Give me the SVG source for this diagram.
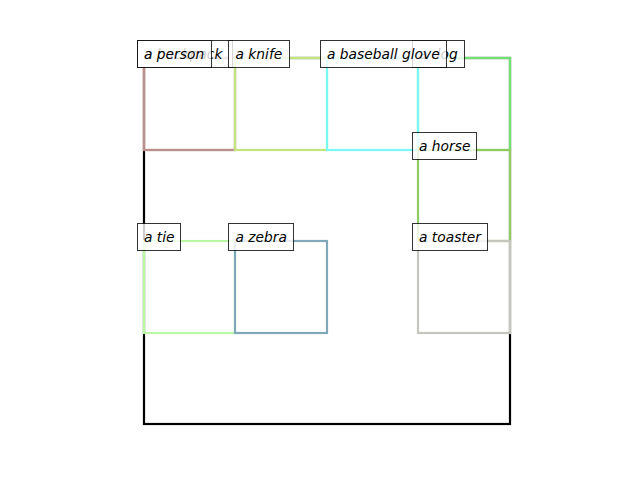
<svg xmlns="http://www.w3.org/2000/svg" width="640" height="480" viewBox="0 0 640 480">
<style>
.box{fill:none;stroke-width:2.2}
.lb{fill:#fff;fill-opacity:0.8;stroke:#000;stroke-opacity:0.8;stroke-width:1}
.tx{font-family:"DejaVu Sans",sans-serif;font-style:oblique;font-size:13.8px;fill:#000}
</style>
<rect width="640" height="480" fill="#fff"/>
<g id="boxes">
<rect id="image" class="box" x="144" y="58" width="366" height="366" stroke="#000"/>
<rect id="box-backpack" class="box" x="144" y="58" width="91" height="92" stroke="#bc8f8f"/>
<rect id="box-person" class="box" x="144" y="58" width="91" height="92" stroke="#bc8f8f"/>
<rect id="box-knife" class="box" x="235" y="58" width="92" height="92" stroke="#c2e47c"/>
<rect id="box-dog" class="box" x="418" y="58" width="92" height="92" stroke="#72e072"/>
<rect id="box-glove" class="box" x="327" y="58" width="91" height="92" stroke="#7af8f8"/>
<rect id="box-horse" class="box" x="418" y="150" width="92" height="91" stroke="#90cc62"/>
<rect id="box-tie" class="box" x="144" y="241" width="91" height="92" stroke="#baf8a2"/>
<rect id="box-zebra" class="box" x="235" y="241" width="92" height="92" stroke="#80a8b8"/>
<rect id="box-toaster" class="box" x="418" y="241" width="92" height="92" stroke="#c6c6be"/>
</g>
<g id="backpack"><rect class="lb" x="137.5" y="40.5" width="95" height="27"/><text class="tx" x="144" y="58.5">a backpack</text></g>
<g id="person"><rect class="lb" x="137.5" y="40.5" width="74" height="27"/><text class="tx" x="144" y="58.5">a person</text></g>
<g id="knife"><rect class="lb" x="228.5" y="40.5" width="61" height="27"/><text class="tx" x="235.5" y="58.5">a knife</text></g>
<g id="dog"><rect class="lb" x="412.5" y="40.5" width="52" height="27"/><text class="tx" x="419" y="58.5">a dog</text></g>
<g id="glove"><rect class="lb" x="320.5" y="40.5" width="126" height="27"/><text class="tx" x="327" y="58.5">a baseball glove</text></g>
<g id="horse"><rect class="lb" x="412.5" y="132.5" width="64" height="27"/><text class="tx" x="419" y="150.5">a horse</text></g>
<g id="tie"><rect class="lb" x="137.5" y="223.5" width="43" height="27"/><text class="tx" x="144" y="241.5">a tie</text></g>
<g id="zebra"><rect class="lb" x="228.5" y="223.5" width="65" height="27"/><text class="tx" x="235.5" y="241.5">a zebra</text></g>
<g id="toaster"><rect class="lb" x="412.5" y="223.5" width="75" height="27"/><text class="tx" x="419" y="241.5">a toaster</text></g>
</svg>
